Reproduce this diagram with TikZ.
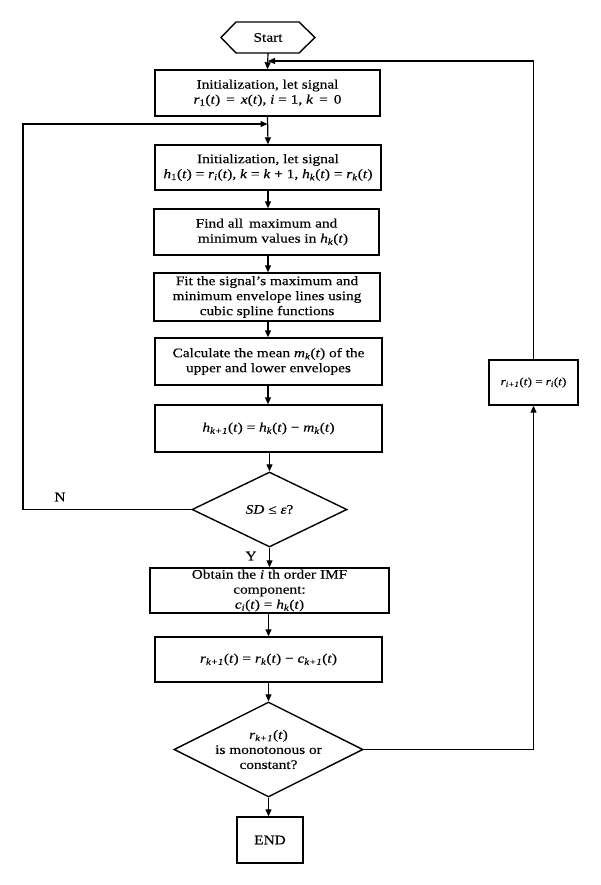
\documentclass[tikz,border=0pt]{standalone}
\usepackage{fontspec}
\setmainfont{Liberation Serif}[FakeStretch=1.18,FakeBold=0.3]
\usetikzlibrary{arrows.meta,shapes.geometric}
\newcommand{\iv}[1]{\textit{#1}}
\newcommand{\isb}[1]{\textsubscript{\textit{#1}}}
\tikzset{
  proc/.style={draw, line width=1.4pt, rectangle, inner sep=0pt, align=center,
    font=\fontsize{13}{15}\selectfont},
  dec/.style={draw, line width=1.4pt, diamond, aspect=2, inner sep=0pt, align=center,
    font=\fontsize{13}{15}\selectfont},
  flow/.style={line width=1.2pt, -{Triangle[length=7pt,width=6pt]}},
  lbl/.style={font=\fontsize{13}{15}\selectfont, inner sep=0pt}
}
\begin{document}
\begin{tikzpicture}[x=1pt,y=-1pt]
\useasboundingbox (0,0) rectangle (600,885);
% Start hexagon
\node[lbl] (start) at (268,37.5) {Start};
\draw[line width=1.4pt] (221,37.5) -- (236,22) -- (299,22) -- (315,37.5) -- (299,53) -- (236,53) -- cycle;
\coordinate (startb) at (268,53);
% boxes
\node[proc, minimum width=225pt, minimum height=46pt] (init1) at (267.5,93)
  {Initialization, let signal\\ \iv{r}\textsubscript{1}(\iv{t})\, = \,\iv{x}(\iv{t}), \iv{i} = 1, \iv{k}\, = \,0};
\node[proc, minimum width=226pt, minimum height=45pt] (init2) at (268,167.5)
  {Initialization, let signal\\ \iv{h}\textsubscript{1}(\iv{t}) = \iv{r}\isb{i}(\iv{t}), \iv{k} = \iv{k} + 1, \iv{h}\isb{k}(\iv{t}) = \iv{r}\isb{k}(\iv{t})};
\node[proc, minimum width=225pt, minimum height=46pt] (find) at (266.5,232)
  {Find all\, maximum and\\ \quad minimum values in \iv{h}\isb{k}(\iv{t})};
\node[proc, minimum width=226pt, minimum height=48pt] (fit) at (267,297)
  {Fit the signal's maximum and\\ minimum envelope lines using\\ cubic spline functions};
\node[proc, minimum width=227pt, minimum height=47pt] (calc) at (268.5,361.5)
  {Calculate the mean \iv{m}\isb{k}(\iv{t}) of the\\ upper and lower envelopes};
\node[proc, minimum width=227pt, minimum height=47pt] (hbox) at (268.5,428.5)
  {\iv{h}\isb{k+1}(\iv{t}) = \iv{h}\isb{k}(\iv{t}) − \iv{m}\isb{k}(\iv{t})};
\node[dec, minimum width=155pt, minimum height=75pt] (sd) at (269.5,509.5)
  {\iv{SD} ≤ \iv{ε}?};
\node[proc, minimum width=239pt, minimum height=45pt] (obt) at (269.5,590.5)
  {Obtain the \iv{i} th order IMF\\ component:\\ \iv{c}\isb{i}(\iv{t}) = \iv{h}\isb{k}(\iv{t})};
\node[proc, minimum width=227pt, minimum height=45pt] (rbox) at (268.5,659.5)
  {\iv{r}\isb{k+1}(\iv{t}) = \iv{r}\isb{k}(\iv{t}) − \iv{c}\isb{k+1}(\iv{t})};
\node[dec, minimum width=189pt, minimum height=95pt] (mono) at (268.5,749.5)
  {\iv{r}\isb{k+1}(\iv{t})\\ is monotonous or\\ constant?};
\node[proc, minimum width=66pt, minimum height=46pt] (endn) at (270,840) {END};
\node[proc, minimum width=89pt, minimum height=45pt, font=\fontsize{11}{13}\selectfont] (rup) at (533.5,382.5)
  {\iv{r}\isb{i+1}(\iv{t}) = \iv{r}\isb{i}(\iv{t})};
% coordinates for loops
\coordinate (rtop) at (533.5,61);
\coordinate (rmid) at (533.5,749.5);
\coordinate (ltop) at (23,124);
\coordinate (lbot) at (23,509.5);
% connectors
\draw[flow] (startb) -- (init1.north);
\draw[flow] (init1.south) -- (init2.north);
\draw[flow] (init2.south) -- (find.north -| init2.south);
\draw[flow] (find.south -| init2.south) -- (fit.north -| init2.south);
\draw[flow] (fit.south -| init2.south) -- (calc.north -| init2.south);
\draw[flow] (calc.south -| init2.south) -- (hbox.north -| init2.south);
\draw[flow] (hbox.south -| sd.north) -- (sd.north);
\draw[flow] (sd.south) -- (obt.north -| sd.south);
\draw[flow] (obt.south -| mono.north) -- (rbox.north -| mono.north);
\draw[flow] (rbox.south -| mono.north) -- (mono.north);
\draw[flow] (mono.south) -- (endn.north -| mono.south);
\draw[flow] (mono.east) -- (rmid) -- (rup.south);
\draw[flow] (rup.north) -- (rtop) -- (rtop -| startb);
\draw[flow] (sd.west) -- (lbot) -- (ltop) -- (ltop -| init1.south);
% labels
\node[lbl] (nlab) at (60,497) {N};
\node[lbl] (ylab) at (251,556) {Y};
\end{tikzpicture}
\end{document}
